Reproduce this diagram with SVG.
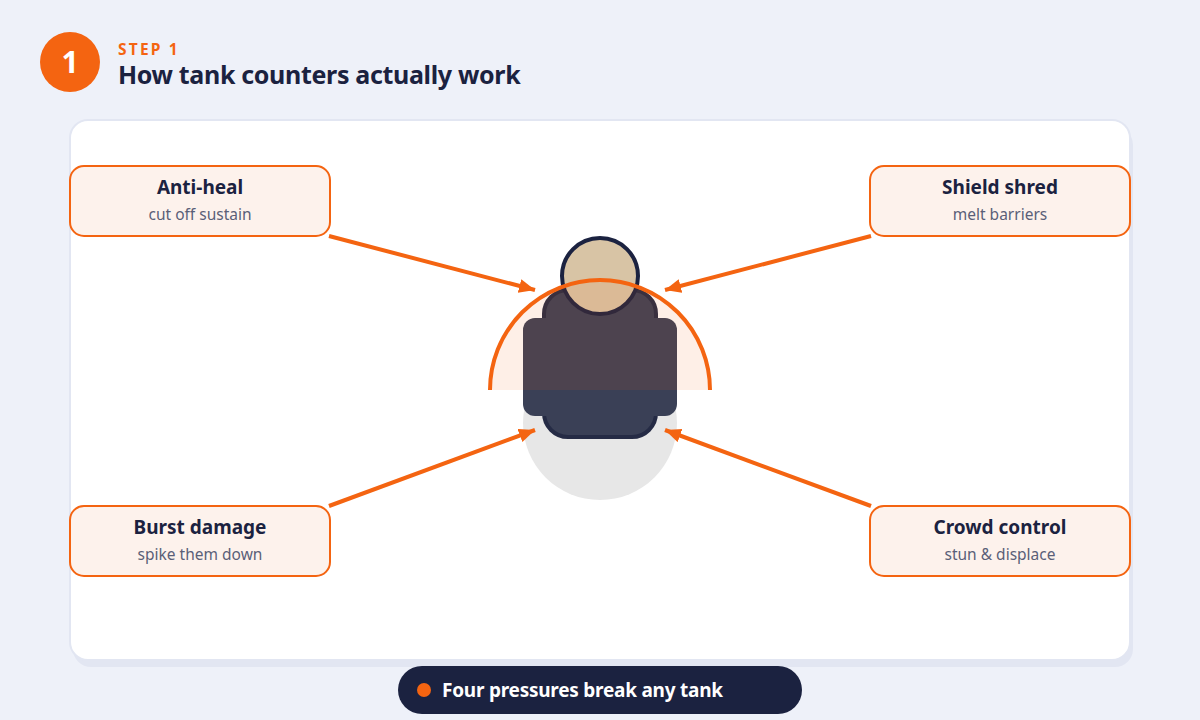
<svg xmlns="http://www.w3.org/2000/svg" width="1200" height="720" viewBox="0 0 1200 720">
  <style>
    text { font-family: "Noto Sans", "Open Sans", sans-serif; text-anchor: middle; }
    .box { fill: #fdf2ec; stroke: #f46411; stroke-width: 2; }
    .title { font-size: 19px; font-weight: 700; fill: #1b2240; }
    .sub { font-size: 15.5px; fill: #5a5f78; }
    .link { stroke: #f46411; stroke-width: 4; fill: none; marker-end: url(#head); }
  </style>
  <defs>
    <marker id="head" markerUnits="userSpaceOnUse" markerWidth="18" markerHeight="16" refX="16" refY="7" orient="auto">
      <path d="M0 0L16 7L0 14z" fill="#f46411"/>
    </marker>
  </defs>
  <rect width="1200" height="720" fill="#eef1f9"/>

  <g id="header">
    <circle cx="70" cy="62" r="30" fill="#f46411"/>
    <text x="70" y="73" font-size="30" font-weight="700" fill="#fff">1</text>
    <text x="118" y="55" font-size="15.5" font-weight="700" letter-spacing="2.2" fill="#f46411" style="text-anchor:start">STEP 1</text>
    <text x="118" y="84" font-size="25" font-weight="700" letter-spacing="-0.33" fill="#1b2240" style="text-anchor:start">How tank counters actually work</text>
  </g>

  <g id="card">
    <rect x="73" y="127" width="1060" height="540" rx="18" fill="#e2e6f2"/>
    <rect x="70" y="120" width="1060" height="540" rx="18" fill="#fff" stroke="#e2e6f2" stroke-width="2"/>
  </g>

  <g id="tank">
    <circle cx="600" cy="423" r="77" fill="#e7e7e7"/>
    <rect x="544" y="290" width="112" height="147" rx="24" fill="#3a4056" stroke="#252b45" stroke-width="4"/>
    <rect x="523" y="318" width="154" height="98" rx="12" fill="#3a4056"/>
    <circle cx="600" cy="276" r="38" fill="#d8c4a5" stroke="#1b2240" stroke-width="4"/>
    <path d="M490 390A110 110 0 0 1 710 390" fill="#f46411" fill-opacity="0.1" stroke="none"/>
    <path d="M490 390A110 110 0 0 1 710 390" fill="none" stroke="#f46411" stroke-width="4"/>
  </g>

  <g id="connectors">
    <path class="link" d="M329 236L535 290"/>
    <path class="link" d="M871 236L665 290"/>
    <path class="link" d="M329 506L535 430"/>
    <path class="link" d="M871 506L665 430"/>
  </g>

  <g id="anti-heal">
    <rect class="box" x="70" y="166" width="260" height="70" rx="14"/>
    <text class="title" x="200" y="194">Anti-heal</text>
    <text class="sub" x="200" y="220">cut off sustain</text>
  </g>
  <g id="shield-shred">
    <rect class="box" x="870" y="166" width="260" height="70" rx="14"/>
    <text class="title" x="1000" y="194">Shield shred</text>
    <text class="sub" x="1000" y="220">melt barriers</text>
  </g>
  <g id="burst-damage">
    <rect class="box" x="70" y="506" width="260" height="70" rx="14"/>
    <text class="title" x="200" y="534">Burst damage</text>
    <text class="sub" x="200" y="560">spike them down</text>
  </g>
  <g id="crowd-control">
    <rect class="box" x="870" y="506" width="260" height="70" rx="14"/>
    <text class="title" x="1000" y="534">Crowd control</text>
    <text class="sub" x="1000" y="560">stun &amp; displace</text>
  </g>

  <g id="summary">
    <rect x="398" y="666" width="404" height="48" rx="24" fill="#1b2240"/>
    <circle cx="424" cy="690" r="7" fill="#f46411"/>
    <text x="442" y="697" font-size="19" font-weight="700" letter-spacing="-0.24" fill="#fff" style="text-anchor:start">Four pressures break any tank</text>
  </g>
</svg>
